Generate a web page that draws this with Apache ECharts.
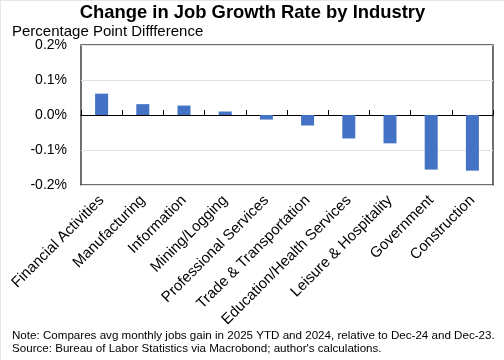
<!DOCTYPE html>
<html>
<head>
<meta charset="utf-8">
<script src="https://cdn.jsdelivr.net/npm/echarts@6/dist/echarts.min.js"></script>
<style>
html,body{margin:0;padding:0;background:#fff;}
#c{width:504px;height:360px;box-sizing:border-box;border-top:1px solid #e6e6e6;border-left:1px solid #e6e6e6;}
</style>
</head>
<body>
<div id="c"></div>
<script>
const categories = ["Financial Activities","Manufacturing","Information","Mining/Logging","Professional Services","Trade & Transportation","Education/Health Services","Leisure & Hospitality","Government","Construction"];
const values = [0.061, 0.031, 0.027, 0.010, -0.013, -0.030, -0.067, -0.081, -0.156, -0.159];
const yTicks = [-0.2, -0.1, 0.0, 0.1, 0.2];
const titleText = "Change in Job Growth Rate by Industry";
const subtitleText = "Percentage Point Diffference";
const noteLines = ["Note: Compares avg monthly jobs gain in 2025 YTD and 2024, relative to Dec-24 and Dec-23.",
                   "Source: Bureau of Labor Statistics via Macrobond; author's calculations."];

const font = "Liberation Sans, Arial, sans-serif";
const chart = echarts.init(document.getElementById('c'), null, {renderer:'canvas'});
chart.setOption({
  animation:false,
  backgroundColor:'#fff',
  title:[
    {text:titleText, left:'center', top:3, padding:0, textStyle:{fontFamily:font, fontSize:18.4, fontWeight:'bold', color:'#000'}},
    {text:subtitleText, left:11, top:23, padding:0, textStyle:{fontFamily:font, fontSize:15, fontWeight:'normal', color:'#000'}},
    {text:noteLines.join('\n'), left:11, top:328, padding:0, textStyle:{fontFamily:font, fontSize:11.6, fontWeight:'normal', color:'#000', lineHeight:13}}
  ],
  grid:{left:80, right:11, top:44, height:140, show:true, borderColor:'#404040', borderWidth:1.5, containLabel:false},
  xAxis:[
    {type:'category', data:categories, position:'bottom',
     axisLine:{onZero:true, lineStyle:{color:'#000', width:1}},
     axisTick:{show:true, interval:()=>true, inside:true, length:5, lineStyle:{color:'#000'}},
     axisLabel:{show:true, interval:()=>true, rotate:45, fontSize:10, color:'rgba(0,0,0,0)'}},
    {type:'category', data:categories, position:'bottom',
     axisLine:{show:false, onZero:false}, axisTick:{show:false, interval:0},
     axisLabel:{show:true, interval:0, rotate:45, margin:13, fontFamily:font, fontSize:15, color:'#000'}}
  ],
  yAxis:{type:'value', min:yTicks[0], max:yTicks[yTicks.length-1], interval:0.1,
    axisLine:{show:false}, axisTick:{show:false},
    splitLine:{show:true, lineStyle:{color:'#e3e3e3', width:1}},
    axisLabel:{margin:14, fontFamily:font, fontSize:14, color:'#000',
      formatter:v=>v.toFixed(1)+'%'}},
  series:[{type:'bar', data:values, xAxisIndex:0, barWidth:13, itemStyle:{color:'#4472C4'}}]
});
</script>
</body>
</html>
